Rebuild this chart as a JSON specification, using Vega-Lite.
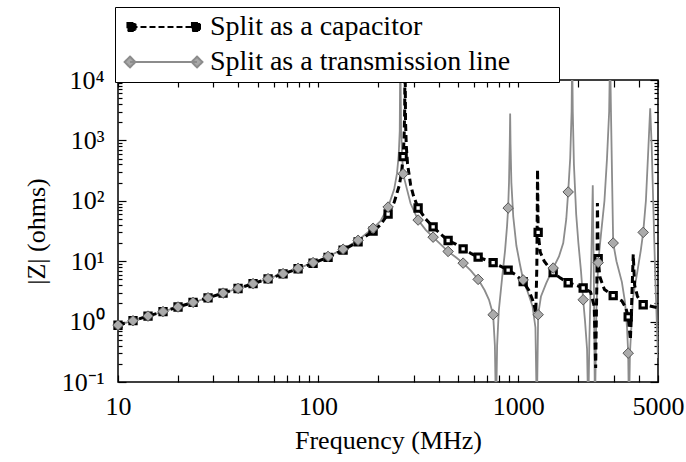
{
  "$schema": "https://vega.github.io/schema/vega-lite/v6.json",
  "width": 540,
  "height": 302,
  "autosize": {"type": "none"},
  "padding": {"left": 118, "top": 80, "right": 28, "bottom": 80},
  "background": "white",
  "config": {
    "view": {"stroke": "black", "strokeWidth": 1.5},
    "font": "Liberation Serif",
    "axis": {
      "labelFont": "Liberation Serif", "titleFont": "Liberation Serif",
      "labelFontSize": 26, "titleFontSize": 26, "titleFontWeight": "normal",
      "labelColor": "black", "titleColor": "black", "tickColor": "black",
      "tickWidth": 1.2, "grid": false, "domain": false, "labelOverlap": false, "labelFlush": false
    }
  },
  "datasets": {
    "tl": [
      {"freq": 10, "z": 0.871}, {"freq": 11.885, "z": 1.036}, {"freq": 14.125, "z": 1.233}, {"freq": 16.788, "z": 1.467},
      {"freq": 19.953, "z": 1.746}, {"freq": 23.714, "z": 2.081}, {"freq": 28.184, "z": 2.482}, {"freq": 33.497, "z": 2.964},
      {"freq": 39.811, "z": 3.548}, {"freq": 47.315, "z": 4.26}, {"freq": 56.234, "z": 5.14}, {"freq": 66.834, "z": 6.23},
      {"freq": 79.433, "z": 7.63}, {"freq": 94.406, "z": 9.48}, {"freq": 112.2, "z": 12.0}, {"freq": 133.35, "z": 15.8},
      {"freq": 158.49, "z": 22.2}, {"freq": 188.36, "z": 35.1}, {"freq": 205, "z": 46}, {"freq": 223.87, "z": 78.8},
      {"freq": 240, "z": 155}, {"freq": 248, "z": 284}, {"freq": 253, "z": 580}, {"freq": 256, "z": 1440},
      {"freq": 257.5, "z": 30000}, {"freq": 260, "z": 1460}, {"freq": 263, "z": 587}, {"freq": 266.07, "z": 280},
      {"freq": 275, "z": 180}, {"freq": 290, "z": 90}, {"freq": 316.23, "z": 48}, {"freq": 345, "z": 33},
      {"freq": 375.84, "z": 25}, {"freq": 410, "z": 19}, {"freq": 446.68, "z": 14.5}, {"freq": 490, "z": 11.5},
      {"freq": 530.88, "z": 9.3}, {"freq": 580, "z": 7}, {"freq": 630.96, "z": 5.0}, {"freq": 680, "z": 3.3},
      {"freq": 715, "z": 2.3}, {"freq": 749.89, "z": 1.3}, {"freq": 765, "z": 0.4}, {"freq": 775, "z": 0.03},
      {"freq": 785, "z": 0.4}, {"freq": 800, "z": 1.5}, {"freq": 830, "z": 5}, {"freq": 860, "z": 15},
      {"freq": 880, "z": 38}, {"freq": 891.25, "z": 76}, {"freq": 900, "z": 200}, {"freq": 908, "z": 900},
      {"freq": 912, "z": 2800}, {"freq": 916, "z": 900}, {"freq": 925, "z": 200}, {"freq": 945, "z": 55},
      {"freq": 980, "z": 18}, {"freq": 1020, "z": 9}, {"freq": 1059.3, "z": 4.9}, {"freq": 1120, "z": 3},
      {"freq": 1180, "z": 1.8}, {"freq": 1220, "z": 0.8}, {"freq": 1240, "z": 0.03}, {"freq": 1258.9, "z": 1.3},
      {"freq": 1300, "z": 2.6}, {"freq": 1380, "z": 4.3}, {"freq": 1496.2, "z": 7.7}, {"freq": 1600, "z": 12},
      {"freq": 1680, "z": 20}, {"freq": 1740, "z": 50}, {"freq": 1778.3, "z": 140}, {"freq": 1820, "z": 500},
      {"freq": 1850, "z": 3000}, {"freq": 1862, "z": 30000}, {"freq": 1875, "z": 3000}, {"freq": 1900, "z": 400},
      {"freq": 1950, "z": 60}, {"freq": 2000, "z": 20}, {"freq": 2060, "z": 7}, {"freq": 2113.5, "z": 2.3},
      {"freq": 2160, "z": 1.0}, {"freq": 2210, "z": 0.35}, {"freq": 2240, "z": 0.03}, {"freq": 2270, "z": 0.5},
      {"freq": 2320, "z": 10}, {"freq": 2360, "z": 180}, {"freq": 2390, "z": 5}, {"freq": 2420, "z": 0.03},
      {"freq": 2460, "z": 1.5}, {"freq": 2511.9, "z": 9.5}, {"freq": 2600, "z": 30}, {"freq": 2700, "z": 100},
      {"freq": 2780, "z": 500}, {"freq": 2850, "z": 3000}, {"freq": 2880, "z": 30000}, {"freq": 2910, "z": 3000},
      {"freq": 2950, "z": 200}, {"freq": 2985.4, "z": 20}, {"freq": 3100, "z": 10}, {"freq": 3300, "z": 4.5},
      {"freq": 3420, "z": 2.1}, {"freq": 3500, "z": 0.8}, {"freq": 3548.1, "z": 0.3}, {"freq": 3580, "z": 0.03},
      {"freq": 3620, "z": 0.3}, {"freq": 3750, "z": 2.5}, {"freq": 3950, "z": 7}, {"freq": 4100, "z": 15},
      {"freq": 4217, "z": 30}, {"freq": 4350, "z": 100}, {"freq": 4480, "z": 800}, {"freq": 4570, "z": 3400},
      {"freq": 4650, "z": 800}, {"freq": 4750, "z": 60}, {"freq": 4850, "z": 5}, {"freq": 5000, "z": 0.25}
    ],
    "cap": [
      {"freq": 10, "z": 0.871}, {"freq": 11.885, "z": 1.036}, {"freq": 14.125, "z": 1.233}, {"freq": 16.788, "z": 1.466},
      {"freq": 19.953, "z": 1.745}, {"freq": 23.714, "z": 2.078}, {"freq": 28.184, "z": 2.477}, {"freq": 33.497, "z": 2.956},
      {"freq": 39.811, "z": 3.535}, {"freq": 47.315, "z": 4.24}, {"freq": 56.234, "z": 5.10}, {"freq": 66.834, "z": 6.16},
      {"freq": 79.433, "z": 7.50}, {"freq": 94.406, "z": 9.24}, {"freq": 112.2, "z": 11.6}, {"freq": 133.35, "z": 15.3},
      {"freq": 158.49, "z": 20.9}, {"freq": 188.36, "z": 31.5}, {"freq": 205, "z": 40}, {"freq": 223.87, "z": 60.4},
      {"freq": 240, "z": 94}, {"freq": 255, "z": 183}, {"freq": 262, "z": 317}, {"freq": 266.07, "z": 540},
      {"freq": 269, "z": 1060}, {"freq": 271, "z": 3200}, {"freq": 272, "z": 50000}, {"freq": 273.5, "z": 2150},
      {"freq": 276, "z": 810}, {"freq": 280, "z": 408}, {"freq": 290, "z": 184}, {"freq": 300, "z": 120},
      {"freq": 316.23, "z": 76}, {"freq": 345, "z": 50}, {"freq": 375.84, "z": 37}, {"freq": 410, "z": 28},
      {"freq": 446.68, "z": 22}, {"freq": 490, "z": 19}, {"freq": 530.88, "z": 16}, {"freq": 580, "z": 13.5},
      {"freq": 630.96, "z": 11.7}, {"freq": 690, "z": 10.5}, {"freq": 749.89, "z": 9.5}, {"freq": 820, "z": 8.2},
      {"freq": 891.25, "z": 7.1}, {"freq": 970, "z": 6}, {"freq": 1059.3, "z": 4.6}, {"freq": 1130, "z": 3.3},
      {"freq": 1180, "z": 2.3}, {"freq": 1210, "z": 1.7}, {"freq": 1225, "z": 1.4}, {"freq": 1240, "z": 8},
      {"freq": 1250, "z": 330}, {"freq": 1258.9, "z": 30}, {"freq": 1290, "z": 14}, {"freq": 1350, "z": 10},
      {"freq": 1420, "z": 8}, {"freq": 1496.2, "z": 6.5}, {"freq": 1620, "z": 5.3}, {"freq": 1778.3, "z": 4.4},
      {"freq": 1950, "z": 4}, {"freq": 2113.5, "z": 3.6}, {"freq": 2300, "z": 3.1}, {"freq": 2400, "z": 1.8},
      {"freq": 2440, "z": 0.17}, {"freq": 2475, "z": 5}, {"freq": 2490, "z": 92}, {"freq": 2511.9, "z": 11},
      {"freq": 2560, "z": 5.5}, {"freq": 2700, "z": 3.4}, {"freq": 2985.4, "z": 2.7}, {"freq": 3300, "z": 2.2},
      {"freq": 3450, "z": 1.7}, {"freq": 3548.1, "z": 1.2}, {"freq": 3640, "z": 0.5}, {"freq": 3700, "z": 2.5},
      {"freq": 3760, "z": 13}, {"freq": 3820, "z": 4}, {"freq": 3950, "z": 2.6}, {"freq": 4217, "z": 1.9},
      {"freq": 5000, "z": 1.7}
    ],
    "tlMarkers": [
      {"freq": 10, "z": 0.871}, {"freq": 11.885, "z": 1.036}, {"freq": 14.125, "z": 1.233}, {"freq": 16.788, "z": 1.467},
      {"freq": 19.953, "z": 1.746}, {"freq": 23.714, "z": 2.081}, {"freq": 28.184, "z": 2.482}, {"freq": 33.497, "z": 2.964},
      {"freq": 39.811, "z": 3.548}, {"freq": 47.315, "z": 4.26}, {"freq": 56.234, "z": 5.14}, {"freq": 66.834, "z": 6.23},
      {"freq": 79.433, "z": 7.63}, {"freq": 94.406, "z": 9.48}, {"freq": 112.2, "z": 12.0}, {"freq": 133.35, "z": 15.8},
      {"freq": 158.49, "z": 22.2}, {"freq": 188.36, "z": 35.1}, {"freq": 223.87, "z": 78.8}, {"freq": 266.07, "z": 280},
      {"freq": 316.23, "z": 48}, {"freq": 375.84, "z": 25}, {"freq": 446.68, "z": 14.5}, {"freq": 530.88, "z": 9.3},
      {"freq": 630.96, "z": 5.0}, {"freq": 749.89, "z": 1.3}, {"freq": 891.25, "z": 76}, {"freq": 1059.3, "z": 4.9},
      {"freq": 1258.9, "z": 1.3}, {"freq": 1496.2, "z": 7.7}, {"freq": 1778.3, "z": 140}, {"freq": 2113.5, "z": 2.3},
      {"freq": 2511.9, "z": 9.5}, {"freq": 2985.4, "z": 20}, {"freq": 3548.1, "z": 0.3}, {"freq": 4217, "z": 30}
    ],
    "capMarkers": [
      {"freq": 10, "z": 0.871}, {"freq": 11.885, "z": 1.036}, {"freq": 14.125, "z": 1.233}, {"freq": 16.788, "z": 1.466},
      {"freq": 19.953, "z": 1.745}, {"freq": 23.714, "z": 2.078}, {"freq": 28.184, "z": 2.477}, {"freq": 33.497, "z": 2.956},
      {"freq": 39.811, "z": 3.535}, {"freq": 47.315, "z": 4.24}, {"freq": 56.234, "z": 5.10}, {"freq": 66.834, "z": 6.16},
      {"freq": 79.433, "z": 7.50}, {"freq": 94.406, "z": 9.24}, {"freq": 112.2, "z": 11.6}, {"freq": 133.35, "z": 15.3},
      {"freq": 158.49, "z": 20.9}, {"freq": 188.36, "z": 31.5}, {"freq": 223.87, "z": 60.4}, {"freq": 266.07, "z": 540},
      {"freq": 316.23, "z": 76}, {"freq": 375.84, "z": 37}, {"freq": 446.68, "z": 22}, {"freq": 530.88, "z": 16},
      {"freq": 630.96, "z": 11.7}, {"freq": 749.89, "z": 9.5}, {"freq": 891.25, "z": 7.1}, {"freq": 1059.3, "z": 4.6},
      {"freq": 1258.9, "z": 30}, {"freq": 1496.2, "z": 6.5}, {"freq": 1778.3, "z": 4.4}, {"freq": 2113.5, "z": 3.6},
      {"freq": 2511.9, "z": 11}, {"freq": 2985.4, "z": 2.7}, {"freq": 3548.1, "z": 1.2}, {"freq": 4217, "z": 1.9}
    ]
  },
  "layer": [
    {
      "data": {"name": "tl"},
      "mark": {"type": "line", "clip": true, "strokeWidth": 1.8},
      "encoding": {
        "x": {
          "field": "freq", "type": "quantitative",
          "scale": {"type": "log", "domain": [10, 5000], "nice": false},
          "axis": {
            "orient": "bottom", "title": "Frequency (MHz)", "titlePadding": 8,
            "values": [10, 20, 30, 40, 50, 60, 70, 80, 90, 100, 200, 300, 400, 500, 600, 700, 800, 900, 1000, 2000, 3000, 4000, 5000],
            "format": "d",
            "labelExpr": "indexof([10, 100, 1000, 5000], datum.value) >= 0 ? datum.label : ''",
            "tickSize": -7, "labelPadding": 18
          }
        },
        "y": {
          "field": "z", "type": "quantitative",
          "scale": {"type": "log", "domain": [0.1, 10000], "nice": false},
          "axis": {
            "orient": "left", "title": "|Z| (ohms)", "titlePadding": 12,
            "values": [0.1, 0.2, 0.3, 0.4, 0.5, 0.6, 0.7, 0.8, 0.9, 1, 2, 3, 4, 5, 6, 7, 8, 9, 10, 20, 30, 40, 50, 60, 70, 80, 90, 100, 200, 300, 400, 500, 600, 700, 800, 900, 1000, 2000, 3000, 4000, 5000, 6000, 7000, 8000, 9000, 10000],
            "labelExpr": "datum.value == 10000 ? '10⁴' : datum.value == 1000 ? '10³' : datum.value == 100 ? '10²' : datum.value == 10 ? '10¹' : datum.value == 1 ? '10⁰' : datum.value == 0.1 ? '10⁻¹' : ''",
            "tickSize": {"condition": {"test": "indexof([0.1, 1, 10, 100, 1000, 10000], datum.value) >= 0", "value": -8}, "value": -4},
            "labelPadding": 22
          }
        },
        "color": {
          "datum": "Split as a transmission line",
          "scale": {"domain": ["Split as a capacitor", "Split as a transmission line"], "range": ["black", "#8c8c8c"]},
          "legend": {
            "orient": "none", "legendX": -3, "legendY": -73, "title": null, "direction": "vertical",
            "padding": 6, "rowPadding": 7, "strokeColor": "black", "fillColor": "white",
            "symbolSize": 8100, "symbolType": "M-1,0H1", "symbolStrokeWidth": 2, "clipHeight": 28,
            "labelFont": "Liberation Serif", "labelFontSize": 28, "labelColor": "black", "labelOffset": -3, "labelLimit": 0,
            "labelExpr": "datum.label + '\u2800\u2800'",
            "encode": {
              "symbols": {
                "update": {
                  "shape": {"signal": "datum.value === 'Split as a capacitor' ? 'M-0.789,0H0.644M-0.879,-0.09h0.18v0.18h-0.18zM0.554,-0.09h0.18v0.18h-0.18z' : 'M-0.822,0H0.667M-0.822,-0.12L-0.702,0L-0.822,0.12L-0.942,0ZM0.667,-0.12L0.787,0L0.667,0.12L0.547,0Z'"},
                  "fill": {"signal": "datum.value === 'Split as a capacitor' ? 'black' : '#a8a8a8'"},
                  "strokeDash": {"signal": "datum.value === 'Split as a capacitor' ? [6, 3] : [1, 0]"}
                }
              }
            }
          }
        }
      }
    },
    {
      "data": {"name": "cap"},
      "mark": {"type": "line", "clip": true, "strokeWidth": 3, "strokeDash": [7, 4], "color": "black"},
      "encoding": {
        "x": {
          "field": "freq", "type": "quantitative",
          "axis": {
            "orient": "top", "title": null, "labels": false,
            "values": [10, 20, 30, 40, 50, 60, 70, 80, 90, 100, 200, 300, 400, 500, 600, 700, 800, 900, 1000, 2000, 3000, 4000, 5000],
            "tickSize": -7
          }
        },
        "y": {
          "field": "z", "type": "quantitative",
          "axis": {
            "orient": "right", "title": null, "labels": false,
            "values": [0.1, 0.2, 0.3, 0.4, 0.5, 0.6, 0.7, 0.8, 0.9, 1, 2, 3, 4, 5, 6, 7, 8, 9, 10, 20, 30, 40, 50, 60, 70, 80, 90, 100, 200, 300, 400, 500, 600, 700, 800, 900, 1000, 2000, 3000, 4000, 5000, 6000, 7000, 8000, 9000, 10000],
            "tickSize": {"condition": {"test": "indexof([0.1, 1, 10, 100, 1000, 10000], datum.value) >= 0", "value": -8}, "value": -4}
          }
        }
      }
    },
    {
      "data": {"name": "capMarkers"},
      "mark": {"type": "point", "shape": "square", "size": 40, "filled": false, "fill": "white", "stroke": "black", "strokeWidth": 3, "opacity": 1},
      "encoding": {
        "x": {"field": "freq", "type": "quantitative", "axis": null},
        "y": {"field": "z", "type": "quantitative", "axis": null}
      }
    },
    {
      "data": {"name": "tlMarkers"},
      "mark": {"type": "point", "shape": "diamond", "size": 110, "filled": true, "fill": "#ababab", "stroke": "#555555", "strokeWidth": 1, "opacity": 1},
      "encoding": {
        "x": {"field": "freq", "type": "quantitative", "axis": null},
        "y": {"field": "z", "type": "quantitative", "axis": null}
      }
    }
  ]
}
